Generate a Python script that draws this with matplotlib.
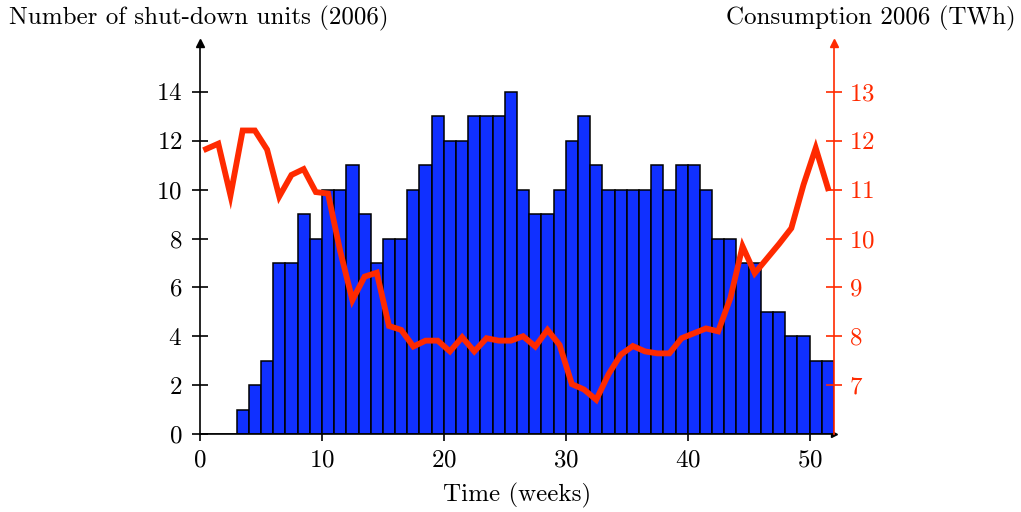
import matplotlib
matplotlib.use("Agg")
import matplotlib.pyplot as plt
import numpy as np

plt.rcParams['font.family'] = 'cmr10'
plt.rcParams['mathtext.fontset'] = 'cm'
plt.rcParams['axes.formatter.use_mathtext'] = True

weeks = list(range(52))
units = [0, 0, 0, 1, 2, 3, 7, 7, 9, 8, 10, 10, 11, 9, 7, 8, 8, 10, 11, 13,
         12, 12, 13, 13, 13, 14, 10, 9, 9, 10, 12, 13, 11, 10, 10, 10, 10, 11,
         10, 11, 11, 10, 8, 8, 7, 7, 5, 5, 4, 4, 3, 3]
consumption = [11.83, 11.94, 10.88, 12.21, 12.21, 11.82, 10.86, 11.30, 11.42,
               10.95, 10.92, 9.74, 8.74, 9.22, 9.30, 8.21, 8.13, 7.79, 7.91,
               7.91, 7.69, 7.98, 7.69, 7.96, 7.91, 7.91, 8.00, 7.79, 8.13, 7.82,
               7.02, 6.91, 6.70, 7.22, 7.62, 7.80, 7.69, 7.65, 7.65, 7.96, 8.06,
               8.16, 8.10, 8.78, 9.84, 9.29, 9.59, 9.89, 10.21, 11.10, 11.85,
               11.03]
left_ticks = [0, 2, 4, 6, 8, 10, 12, 14]
right_ticks = [7, 8, 9, 10, 11, 12, 13]
x_ticks = [0, 10, 20, 30, 40, 50]

BLUE = '#1030FF'
RED = '#FF2A00'
FS = 18

fig = plt.figure(figsize=(10.21, 5.12), dpi=100)
ax = fig.add_axes([200/1021, 1 - 434/512, 634/1021, 391/512])
ax.bar(weeks, units, width=1.0, align='edge', color=BLUE,
       edgecolor='black', linewidth=1.1, zorder=2)
ax.set_xlim(0, 52)
ax.set_ylim(0, 16)
ax.set_xticks(x_ticks)
ax.set_yticks(left_ticks)
ax.spines['top'].set_visible(False)
ax.spines['right'].set_visible(False)
for s in ('left', 'bottom'):
    ax.spines[s].set_linewidth(1.2)
ax.tick_params(axis='y', direction='inout', length=11.5, width=1.2,
               pad=7, labelsize=FS)
ax.tick_params(axis='x', direction='out', length=5, width=1.2,
               pad=6, labelsize=FS)
ax.set_xlabel('Time (weeks)', fontsize=FS, labelpad=8)

ax2 = ax.twinx()
ax2.plot([w + 0.5 for w in weeks], consumption, color=RED, lw=4.2,
         solid_joinstyle='miter', zorder=3)
ax2.set_ylim(6, 14)
ax2.set_yticks(right_ticks)
ax2.spines['top'].set_visible(False)
ax2.spines['left'].set_visible(False)
ax2.spines['bottom'].set_visible(False)
ax2.spines['right'].set_color(RED)
ax2.spines['right'].set_linewidth(1.2)
ax2.tick_params(axis='y', direction='inout', length=11.5, width=1.2,
                pad=5, labelsize=FS, colors=RED)

# arrow heads
ax.plot([0], [1], marker='^', color='black', markersize=6,
        transform=ax.transAxes, clip_on=False, zorder=5)
ax.plot([1], [0], marker='>', color='black', markersize=5,
        transform=ax.transAxes, clip_on=False, zorder=1)
ax2.plot([1], [1], marker='^', color=RED, markersize=6,
         transform=ax2.transAxes, clip_on=False, zorder=5)

fig.text(199/1021, 1 - 18/512, 'Number of shut-down units (2006)',
         ha='center', va='center', fontsize=FS)
fig.text(871/1021, 1 - 18/512, 'Consumption 2006 (TWh)',
         ha='center', va='center', fontsize=FS)

fig.savefig('out.png', dpi=100)
